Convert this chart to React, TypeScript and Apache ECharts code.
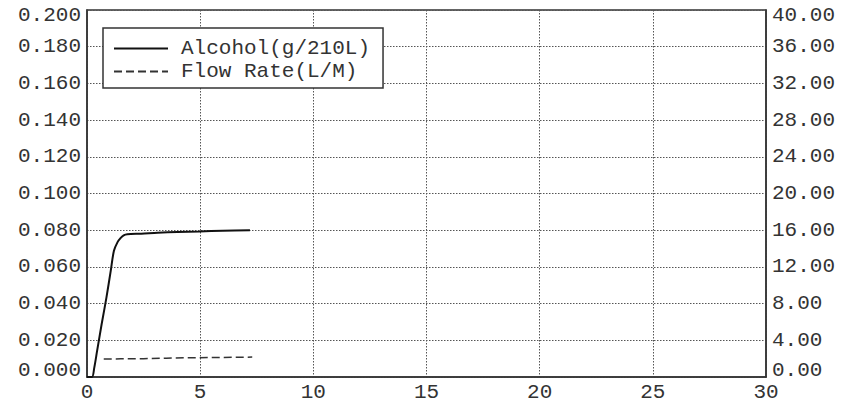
import React, { useEffect, useRef } from "react";
import * as echarts from "echarts";

const FONT = "'Liberation Mono', 'DejaVu Sans Mono', monospace";

const seriesNames = ["Alcohol(g/210L)", "Flow Rate(L/M)"];

const alcoholTime = [0, 0.22, 0.32, 0.45, 0.65, 0.86, 1.05, 1.19, 1.35, 1.48, 1.62, 1.78, 2.4, 3.12, 4.0, 4.97, 6.0, 7.2];
const alcoholValues = [0, 0, 0.005, 0.0145, 0.029, 0.0434, 0.058, 0.0688, 0.0735, 0.0757, 0.0772, 0.0778, 0.0781, 0.0786, 0.079, 0.0793, 0.0797, 0.08];

const flowTime = [0.74, 1.5, 2.5, 3.5, 4.5, 5.5, 6.5, 7.3];
const flowValues = [1.95, 1.98, 2.0, 2.05, 2.1, 2.12, 2.15, 2.17];

const xMin = 0, xMax = 30, xStep = 5;
const leftMin = 0, leftMax = 0.2, leftStep = 0.02;
const rightMin = 0, rightMax = 40, rightStep = 4;

const FS = 21;
const rich = {
  top: { fontFamily: FONT, fontSize: FS, color: "#333", padding: [10, 0, 0, 0] },
  bot: { fontFamily: FONT, fontSize: FS, color: "#333", padding: [0, 0, 14, 0] },
};

function edgeLabel(v: number, min: number, max: number, digits: number) {
  const s = v.toFixed(digits);
  if (Math.abs(v - max) < 1e-9) return "{top|" + s + "}";
  if (Math.abs(v - min) < 1e-9) return "{bot|" + s + "}";
  return s;
}

export default function App() {
  const ref = useRef<HTMLDivElement>(null);
  useEffect(() => {
    if (!ref.current) return;
    const chart = echarts.init(ref.current, undefined, { renderer: "svg" });
    const gridLine = { show: true, lineStyle: { type: [1.5, 1.5], color: "#555", width: 1 } };
    chart.setOption({
      animation: false,
      backgroundColor: "#fff",
      grid: { left: 87, top: 10, right: 83, bottom: 27, show: true, borderColor: "#333", borderWidth: 1.5, backgroundColor: "transparent" },
      legend: {
        orient: "vertical",
        left: 103,
        top: 28,
        padding: [10, 13, 6, 10],
        backgroundColor: "#fff",
        borderColor: "#333",
        borderWidth: 1.5,
        itemWidth: 54,
        itemHeight: 14,
        itemGap: 2,
        itemStyle: { opacity: 0 },
        textStyle: { fontFamily: FONT, fontSize: FS, color: "#333", padding: [0, 0, 0, 8] },
        data: seriesNames,
      },
      xAxis: {
        type: "value",
        min: xMin,
        max: xMax,
        interval: xStep,
        axisLine: { show: true, lineStyle: { color: "#333", width: 1.5 } },
        axisTick: { show: false },
        axisLabel: { fontFamily: FONT, fontSize: FS, color: "#333", margin: 5 },
        splitLine: gridLine,
      },
      yAxis: [
        {
          type: "value",
          min: leftMin,
          max: leftMax,
          interval: leftStep,
          position: "left",
          axisLine: { show: true, lineStyle: { color: "#333", width: 1.5 } },
          axisTick: { show: false },
          axisLabel: {
            fontFamily: FONT, fontSize: FS, color: "#333", margin: 6, rich,
            formatter: (v: number) => edgeLabel(v, leftMin, leftMax, 3),
          },
          splitLine: gridLine,
        },
        {
          type: "value",
          min: rightMin,
          max: rightMax,
          interval: rightStep,
          position: "right",
          axisLine: { show: true, lineStyle: { color: "#333", width: 1.5 } },
          axisTick: { show: false },
          axisLabel: {
            fontFamily: FONT, fontSize: FS, color: "#333", margin: 6, rich,
            formatter: (v: number) => edgeLabel(v, rightMin, rightMax, 2),
          },
          splitLine: { show: false },
        },
      ],
      series: [
        {
          name: seriesNames[0],
          type: "line",
          yAxisIndex: 0,
          symbol: "none",
          smooth: 0.3,
          lineStyle: { color: "#111", width: 2 },
          itemStyle: { color: "#111" },
          data: alcoholTime.map((t, i) => [t, alcoholValues[i]]),
        },
        {
          name: seriesNames[1],
          type: "line",
          yAxisIndex: 1,
          symbol: "none",
          lineStyle: { color: "#333", width: 1.5, type: [8, 4] },
          itemStyle: { color: "#333" },
          data: flowTime.map((t, i) => [t, flowValues[i]]),
        },
      ],
    });
    return () => chart.dispose();
  }, []);
  return <div ref={ref} style={{ position: "fixed", left: 0, top: 0, width: 849, height: 404 }} />;
}
